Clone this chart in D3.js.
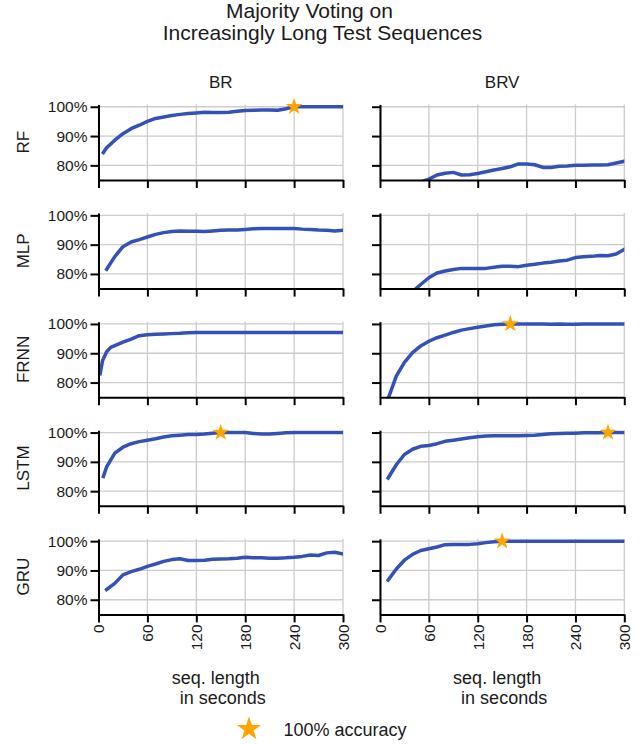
<!DOCTYPE html>
<html>
<head>
<meta charset="utf-8">
<script src="https://cdn.jsdelivr.net/npm/d3@7"></script>
<style>
  body { margin: 0; background: #fff; }
  text { font-family: "Liberation Sans", Arial, sans-serif; fill: #1a1a1a; }
</style>
</head>
<body>
<div id="chart"></div>
<script>
// data
const models = ['RF', 'MLP', 'FRNN', 'LSTM', 'GRU']
const variants = ['BR', 'BRV']
const xTicks = [0, 60, 120, 180, 240, 300]
const yTicks = [80, 90, 100]

const seconds = [10, 20, 30, 40, 50, 60, 70, 80, 90, 100, 110, 120, 130, 140, 150,
  160, 170, 180, 190, 200, 210, 220, 230, 240, 250, 260, 270, 280, 290, 300]
const secondsEarly = [6, 10, 20, 30, 40, 50, 60, 70, 80, 90, 100, 110, 120, 130, 140, 150,
  160, 170, 180, 190, 200, 210, 220, 230, 240, 250, 260, 270, 280, 290, 300]
const secondsFRNN = [2, 5, 10, 15, 20, 30, 40, 50, 60, 70, 80, 90, 100, 110, 120, 130, 140, 150,
  160, 170, 180, 190, 200, 210, 220, 230, 240, 250, 260, 270, 280, 290, 300]

const rfBR = [84.4, 86.0, 88.6, 90.8, 92.5, 93.7, 95.0, 96.0, 96.5, 97.0, 97.4, 97.7, 97.9, 98.1, 98.0, 98.0,
  98.1, 98.5, 98.7, 98.8, 98.9, 98.9, 98.8, 99.3, 100, 100, 100, 100, 100, 100, 100]
const mlpBR = [81.6, 85.9, 89.3, 90.9, 91.7, 92.6, 93.5, 94.1, 94.5, 94.7, 94.6, 94.6, 94.5, 94.7, 94.9,
  95.0, 95.0, 95.2, 95.4, 95.5, 95.5, 95.5, 95.5, 95.5, 95.3, 95.2, 95.0, 94.9, 94.7, 94.9]
const frnnBR = [83.0, 87.5, 90.5, 92.0, 92.6, 93.8, 94.8, 96.0, 96.3, 96.5, 96.6, 96.7, 96.8, 97.0, 97.1,
  97.1, 97.1, 97.1, 97.1, 97.1, 97.1, 97.1, 97.1, 97.1, 97.1, 97.1, 97.1, 97.1, 97.1, 97.1, 97.1, 97.1, 97.1]
const lstmBR = [85.0, 88.3, 93.0, 95.0, 96.2, 96.9, 97.4, 97.9, 98.5, 98.9, 99.1, 99.3, 99.3, 99.5, 99.8, 100,
  100, 100, 100, 99.7, 99.5, 99.5, 99.7, 99.9, 100, 100, 100, 100, 100, 100, 100]
const gruBR = [83.5, 85.6, 88.5, 89.6, 90.4, 91.4, 92.2, 93.1, 93.7, 94.0, 93.4, 93.4, 93.5, 93.8, 93.9,
  94.0, 94.2, 94.5, 94.3, 94.3, 94.2, 94.2, 94.3, 94.5, 94.8, 95.3, 95.1, 96.0, 96.2, 95.6]

const rfBRV = [70, 71.5, 72.5, 73.5, 74.3, 75.3, 76.7, 77.3, 77.6, 76.7, 76.8, 77.2, 77.8, 78.4, 78.9,
  79.5, 80.5, 80.5, 80.2, 79.3, 79.3, 79.7, 79.8, 80.0, 80.0, 80.1, 80.1, 80.2, 80.8, 81.4]
const mlpBRV = [70, 72, 73.5, 74.0, 76.4, 78.7, 80.3, 81.0, 81.5, 81.9, 81.9, 81.9, 81.9, 82.3, 82.6,
  82.6, 82.5, 83.0, 83.3, 83.7, 84.0, 84.4, 84.7, 85.6, 85.9, 86.0, 86.3, 86.2, 86.8, 88.4]
const frnnBRV = [74.5, 82.2, 86.9, 90.2, 92.5, 94.1, 95.3, 96.2, 97.1, 97.9, 98.4, 98.9, 99.3, 99.7, 99.9,
  100, 100, 100, 100, 100, 99.9, 100, 99.9, 99.9, 100, 100, 100, 100, 100, 100]
const lstmBRV = [84.5, 89.0, 92.5, 94.3, 95.3, 95.6, 96.2, 97.0, 97.4, 97.8, 98.2, 98.6, 98.8, 98.9, 98.9,
  98.9, 98.9, 99.0, 99.1, 99.3, 99.6, 99.7, 99.8, 99.8, 99.9, 99.9, 99.9, 100, 100, 100]
const gruBRV = [86.7, 90.5, 93.5, 95.5, 96.8, 97.4, 98.0, 98.8, 98.9, 98.9, 98.9, 99.1, 99.5, 99.8, 100,
  100, 100, 100, 100, 100, 100, 100, 100, 100, 100, 100, 100, 100, 100, 100]

const panels = [
  [[secondsEarly, rfBR], [seconds, rfBRV]],
  [[seconds, mlpBR], [seconds, mlpBRV]],
  [[secondsFRNN, frnnBR], [seconds, frnnBRV]],
  [[secondsEarly, lstmBR], [seconds, lstmBRV]],
  [[seconds, gruBR], [seconds, gruBRV]]
]

// layout
const width = 641, height = 744
const colX = [[98.5, 343], [380, 624.3]]
const rowTop = 104.5, rowStep = 108.6, panelH = 75.5
const lineColor = '#3451b5', starColor = '#ffa500'

const svg = d3.select('#chart').append('svg')
  .attr('width', width)
  .attr('height', height)

svg.append('text').attr('x', 309.5).attr('y', 17.5)
  .attr('text-anchor', 'middle').style('font-size', '21px').text('Majority Voting on')
svg.append('text').attr('x', 322.5).attr('y', 39.5)
  .attr('text-anchor', 'middle').style('font-size', '21px').text('Increasingly Long Test Sequences')

let y = d3.scaleLinear().domain([75, 100.77]).range([panelH, 0])
let star = d3.symbol().type(d3.symbolStar)

variants.forEach((variant, c) => {
  let x = d3.scaleLinear().domain([0, 300]).range(colX[c])
  let cx = (colX[c][0] + colX[c][1]) / 2

  svg.append('text').attr('x', cx).attr('y', 87.5)
    .attr('text-anchor', 'middle').style('font-size', '17px').text(variant)

  models.forEach((model, r) => {
    let top = rowTop + r * rowStep
    let g = svg.append('g').attr('transform', `translate(0,${top})`)
    let [secs, vals] = panels[r][c]
    let pts = secs.map((s, i) => [s, vals[i]])

    // grid
    g.append('g').selectAll('line').data(xTicks).enter().append('line')
      .attr('x1', d => x(d)).attr('x2', d => x(d))
      .attr('y1', 0).attr('y2', panelH)
      .attr('stroke', '#cccccc').attr('stroke-width', 1.3)
    g.append('g').selectAll('line').data(yTicks).enter().append('line')
      .attr('x1', colX[c][0]).attr('x2', colX[c][1])
      .attr('y1', d => y(d)).attr('y2', d => y(d))
      .attr('stroke', '#cccccc').attr('stroke-width', 1.3)

    let clipId = 'clip-' + r + '-' + c
    g.append('clipPath').attr('id', clipId).append('rect')
      .attr('x', colX[c][0]).attr('y', 0)
      .attr('width', colX[c][1] - colX[c][0]).attr('height', panelH)

    g.append('path')
      .datum(pts)
      .attr('clip-path', `url(#${clipId})`)
      .attr('fill', 'none')
      .attr('stroke', lineColor)
      .attr('stroke-width', 3.5)
      .attr('stroke-linejoin', 'round')
      .attr('stroke-linecap', 'square')
      .attr('d', d3.line().x(d => x(d[0])).y(d => y(d[1])))

    // axes
    let yAxis = d3.axisLeft(y).tickValues(yTicks).tickSize(8).tickSizeOuter(0)
      .tickFormat(d => c === 0 ? d + '%' : '')
    let ya = g.append('g').attr('transform', `translate(${colX[c][0]},0)`).call(yAxis)
    let xAxis = d3.axisBottom(x).tickValues(xTicks).tickSize(8).tickSizeOuter(0)
      .tickFormat(d => r === models.length - 1 ? d : '')
    let xa = g.append('g').attr('transform', `translate(0,${panelH})`).call(xAxis)

    ;[ya, xa].forEach(a => {
      a.select('.domain').attr('stroke', '#000').attr('stroke-width', 2)
      a.selectAll('.tick line').attr('stroke', '#000').attr('stroke-width', 2)
      a.selectAll('.tick text').style('font-size', '15.5px').attr('fill', '#1a1a1a')
    })
    ya.selectAll('.tick text').attr('x', -11)
    xa.selectAll('.tick text')
      .attr('transform', 'rotate(-90)')
      .attr('text-anchor', 'end')
      .attr('x', -10).attr('y', 0).attr('dy', '0.35em')

    if (c === 0) {
      svg.append('text')
        .attr('transform', `translate(29,${top + panelH / 2}) rotate(-90)`)
        .attr('text-anchor', 'middle').style('font-size', '17px').text(model)
    }

    // first point reaching 100%
    let hit = pts.find(p => p[1] >= 100)
    if (hit) {
      g.append('path')
        .attr('d', star.size(90)())
        .attr('transform', `translate(${x(hit[0])},${y(hit[1])})`)
        .attr('fill', starColor)
    }
  })

  svg.append('text').attr('x', cx - 5).attr('y', 683.5)
    .attr('text-anchor', 'middle').style('font-size', '18px').text('seq. length')
  svg.append('text').attr('x', cx + 2).attr('y', 703.5)
    .attr('text-anchor', 'middle').style('font-size', '18px').text('in seconds')
})

// legend
svg.append('path')
  .attr('d', star.size(180)())
  .attr('transform', 'translate(249,729)')
  .attr('fill', starColor)
svg.append('text').attr('x', 283.5).attr('y', 736)
  .style('font-size', '18px').text('100% accuracy')
</script>
</body>
</html>
